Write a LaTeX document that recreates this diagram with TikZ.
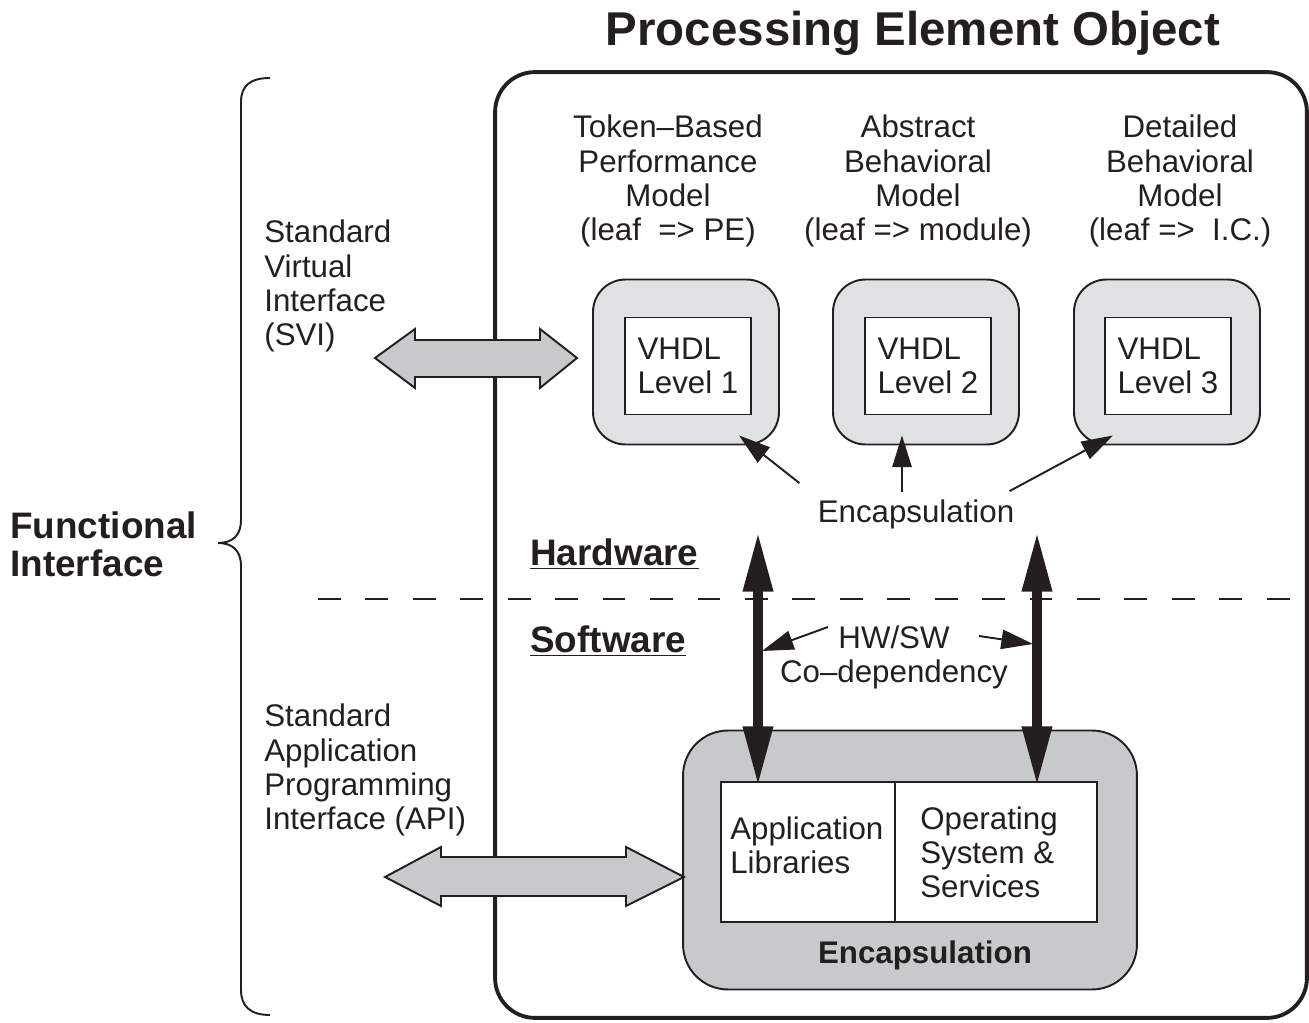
\documentclass[tikz,border=0pt]{standalone}
\usepackage{fontspec}
\setmainfont{Liberation Sans}
\usetikzlibrary{arrows.meta}
\definecolor{ink}{HTML}{231F20}
\definecolor{shadelight}{HTML}{E0E1E3}
\definecolor{shadedark}{HTML}{C8C9CB}
\begin{document}
\begin{tikzpicture}[x=0.02cm, y=-0.02cm, ink,
    txt/.style={inner sep=0pt, text=ink, font=\fontsize{17.8}{19.4}\selectfont},
    boldtxt/.style={inner sep=0pt, text=ink, font=\fontsize{21}{21.5}\selectfont\bfseries},
    ring/.style={draw=ink, line width=1.1pt, fill=shadelight, rounded corners=0.65cm,
        minimum width=3.72cm, minimum height=3.3cm},
    vhdl/.style={txt, draw=ink, line width=1.1pt, fill=white, align=left,
        minimum width=2.52cm, minimum height=1.94cm},
    cell/.style={draw=ink, line width=1.1pt, fill=white, minimum height=2.8cm},
    fat/.style={draw=ink, line width=1.1pt, fill=shadedark},
    thin/.style={-{Triangle[length=18pt, width=11pt]}, line width=1.1pt},
    bold/.style={{Triangle[length=34pt, width=16pt]}-{Triangle[length=34pt, width=16pt]}, line width=5.5pt}]
    \useasboundingbox (0,0) rectangle (1309,1023);
    % Title and outer frame
    \node[inner sep=0pt, font=\fontsize{27}{30}\selectfont\bfseries] (title) at (913,33) {Processing Element Object};
    \node[draw=ink, line width=2.2pt, rounded corners=0.8cm, minimum width=16.24cm, minimum height=18.92cm] (peo) at (901,545) {};
    \draw[line width=1.1pt, dash pattern=on 13pt off 14pt] (318,599) -- (1309,599);
    % Left side: brace and interface labels
    \draw[line width=1.1pt] (270,78) .. controls (250,78) and (241,86) .. (241,102) -- (241,520)
        .. controls (241,536) and (232,543) .. (218,543) .. controls (232,543) and (241,550) .. (241,566)
        -- (241,990) .. controls (241,1006) and (250,1015) .. (270,1015);
    \node[boldtxt, anchor=west, align=left] (func) at (10,544) {Functional\\Interface};
    \node[txt, anchor=west, align=left] (svi) at (264,286) {Standard\\Virtual\\Interface\\(SVI)};
    \node[txt, anchor=west, align=left] (api) at (264,770) {Standard\\Application\\Programming\\Interface (API)};
    \node[boldtxt, anchor=base west] (hw) at (530,566) {\underline{Hardware}};
    \node[boldtxt, anchor=base west] (sw) at (530,653) {\underline{Software}};
    % Hardware models
    \node[txt, align=center] (tbpm) at (668,181) {Token--Based\\Performance\\Model\\(leaf\ \ => PE)};
    \node[txt, align=center] (abm) at (918,181) {Abstract\\Behavioral\\Model\\(leaf => module)};
    \node[txt, align=center] (dbm) at (1180,181) {Detailed\\Behavioral\\Model\\(leaf =>\ \ I.C.)};
    \node[ring] (pe1) at (686,362) {};
    \node[ring] (pe2) at (926,362) {};
    \node[ring] (pe3) at (1167,362) {};
    \node[vhdl] (v1) at (688,366) {VHDL\\Level 1};
    \node[vhdl] (v2) at (928,366) {VHDL\\Level 2};
    \node[vhdl] (v3) at (1168,366) {VHDL\\Level 3};
    \node[txt] (encap) at (916,514) {Encapsulation};
    \draw[thin] ([shift={(-18,-16)}]encap.north west) -- ([shift={(53,-10)}]pe1.south);
    \draw[thin] ([shift={(-14,-7)}]encap.north) -- ([shift={(-24,-10)}]pe2.south);
    \draw[thin] ([shift={(-5,-8)}]encap.north east) -- ([shift={(-54,-10)}]pe3.south);
    % Software side
    \node[draw=ink, line width=1.1pt, fill=shadedark, rounded corners=0.9cm, minimum width=9.08cm, minimum height=5.18cm] (swbox) at (910,860) {};
    \node[cell, minimum width=3.48cm] (libcell) at (808,852) {};
    \node[cell, minimum width=4.04cm] (oscell) at (996,852) {};
    \node[txt, anchor=west, align=left] (applib) at (730,845) {Application\\Libraries};
    \node[txt, anchor=west, align=left] (ossvc) at (920,852) {Operating\\System \&\\Services};
    \node[txt, font=\fontsize{17.8}{19.4}\selectfont\bfseries] (swencap) at (925,955) {Encapsulation};
    % Interface arrows
    \draw[fat] (375,358) -- (415,329) -- (415,340) -- (540,340) -- (540,329) -- (577,358)
        -- (540,388) -- (540,377) -- (415,377) -- (415,388) -- cycle;
    \draw[fat] (385,877) -- (441,847) -- (441,857) -- (626,857) -- (626,847) -- (684,877)
        -- (626,906) -- (626,896) -- (441,896) -- (441,906) -- cycle;
    % HW/SW co-dependency
    \coordinate (hwl) at (758,532);
    \coordinate (hwr) at (1037,532);
    \draw[bold] (hwl) -- ([yshift=-0.1cm]hwl |- libcell.north);
    \draw[bold] (hwr) -- ([yshift=-0.1cm]hwr |- oscell.north);
    \node[txt, align=center] (hwsw) at (894,657) {HW/SW\\Co--dependency};
    \draw[thin] ([shift={(-66,-30)}]hwsw.center) -- ([shift={(4,119)}]hwl);
    \draw[thin] ([shift={(85,-21)}]hwsw.center) -- ([shift={(-4,112)}]hwr);
\end{tikzpicture}
\end{document}
